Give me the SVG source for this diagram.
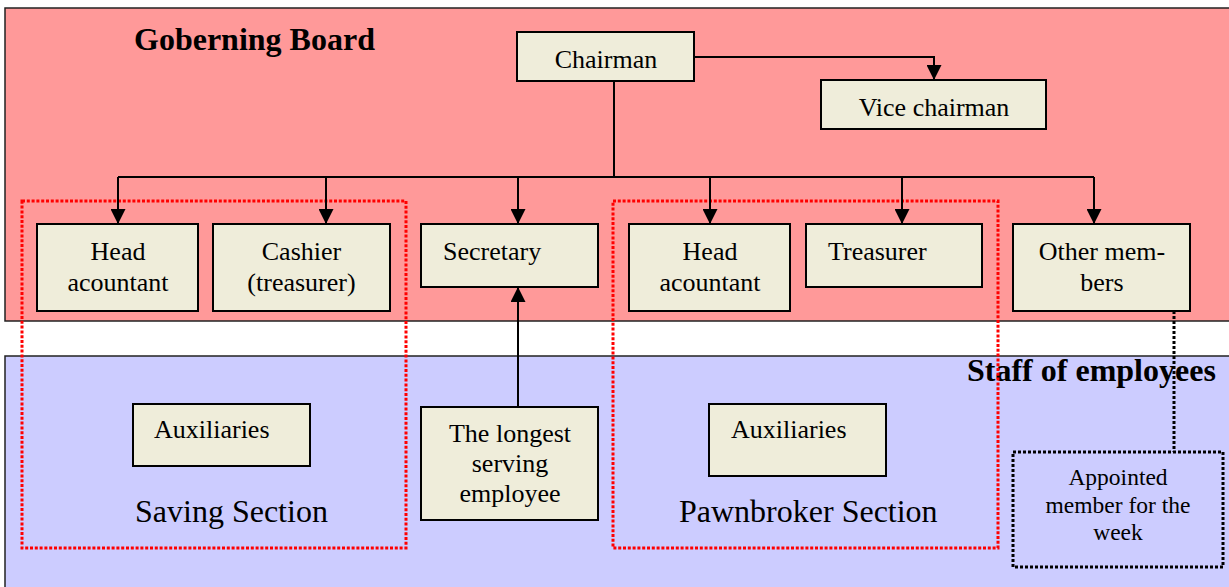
<svg xmlns="http://www.w3.org/2000/svg" width="1229" height="587" viewBox="0 0 1229 587">
<style>
.bg{stroke:#222;stroke-width:1.5}
.box{fill:#EFEDDA;stroke:#000;stroke-width:2}
.t{font-family:"Liberation Serif","Times New Roman",serif;font-size:26px;fill:#000}
.tc{text-anchor:middle}
.title{font-family:"Liberation Serif","Times New Roman",serif;font-size:32px;font-weight:bold;fill:#000}
.sec{font-family:"Liberation Serif","Times New Roman",serif;font-size:32px;fill:#000}
.small{font-size:23.5px}
.line{fill:none;stroke:#000;stroke-width:2}
.red{fill:none;stroke:#FF0000;stroke-width:3;stroke-dasharray:3 1.8}
.blk{fill:none;stroke:#000;stroke-width:3;stroke-dasharray:3 2}
</style>
<defs>
<marker id="arr" markerUnits="userSpaceOnUse" markerWidth="15" markerHeight="15" refX="15" refY="7.5" orient="auto">
<path d="M0,0 L15,7.5 L0,15 z" fill="#000"/>
</marker>
</defs>
<rect width="1229" height="587" fill="#fff"/>
<g id="board-bg">
<rect class="bg" x="5" y="8" width="1230" height="313" fill="#FF9999"/>
<text class="title" x="134" y="50">Goberning Board</text>
</g>
<g id="staff-bg">
<rect class="bg" x="5" y="356" width="1230" height="240" fill="#CCCCFF"/>
<text class="title" x="967" y="381">Staff of employees</text>
</g>
<g id="chairman"><rect class="box" x="517" y="32" width="177" height="49"/><text class="t tc" x="606" y="68">Chairman</text></g>
<g id="vice-chairman"><rect class="box" x="821" y="80" width="225" height="49"/><text class="t tc" x="934" y="116">Vice chairman</text></g>
<g id="head-accountant-1"><rect class="box" x="37" y="224" width="161" height="87"/><text class="t tc" x="118" y="260">Head</text><text class="t tc" x="118" y="291">acountant</text></g>
<g id="cashier"><rect class="box" x="213" y="224" width="177" height="87"/><text class="t tc" x="301.5" y="260">Cashier</text><text class="t tc" x="301.5" y="291">(treasurer)</text></g>
<g id="secretary"><rect class="box" x="421" y="224" width="177" height="63"/><text class="t" x="443" y="260">Secretary</text></g>
<g id="head-accountant-2"><rect class="box" x="629" y="224" width="161" height="87"/><text class="t tc" x="710" y="260">Head</text><text class="t tc" x="710" y="291">acountant</text></g>
<g id="treasurer"><rect class="box" x="806" y="224" width="176" height="63"/><text class="t" x="828" y="260">Treasurer</text></g>
<g id="other-members"><rect class="box" x="1013" y="224" width="177" height="87"/><text class="t tc" x="1102" y="260">Other mem-</text><text class="t tc" x="1102" y="291">bers</text></g>
<g id="auxiliaries-1"><rect class="box" x="133" y="404" width="177" height="62"/><text class="t" x="154" y="438">Auxiliaries</text></g>
<g id="longest-serving"><rect class="box" x="421" y="407" width="177" height="113"/><text class="t tc" x="510" y="442">The longest</text><text class="t tc" x="510" y="472">serving</text><text class="t tc" x="510" y="502">employee</text></g>
<g id="auxiliaries-2"><rect class="box" x="709" y="404" width="177" height="72"/><text class="t" x="731" y="438">Auxiliaries</text></g>
<g id="appointed-member"><rect class="blk" x="1013" y="452" width="210" height="115"/><text class="t tc small" x="1118" y="485">Appointed</text><text class="t tc small" x="1118" y="513">member for the</text><text class="t tc small" x="1118" y="540">week</text></g>
<g id="saving-section"><rect class="red" x="22" y="201" width="384" height="347"/><text class="sec" x="135" y="522">Saving Section</text></g>
<g id="pawnbroker-section"><rect class="red" x="613" y="201" width="385" height="347"/><text class="sec" x="679" y="522">Pawnbroker Section</text></g>
<g id="connectors">
<path class="line" d="M694,57 H934 V80" marker-end="url(#arr)"/>
<path class="line" d="M614,81 V177"/>
<path class="line" d="M118,177 H1094"/>
<path class="line" d="M118,177 V224" marker-end="url(#arr)"/>
<path class="line" d="M326,177 V224" marker-end="url(#arr)"/>
<path class="line" d="M518,177 V224" marker-end="url(#arr)"/>
<path class="line" d="M710,177 V224" marker-end="url(#arr)"/>
<path class="line" d="M902,177 V224" marker-end="url(#arr)"/>
<path class="line" d="M1094,177 V224" marker-end="url(#arr)"/>
<path class="line" d="M518,407 V287" marker-end="url(#arr)"/>
<path class="blk" d="M1174,311 V452"/>
</g>
</svg>
